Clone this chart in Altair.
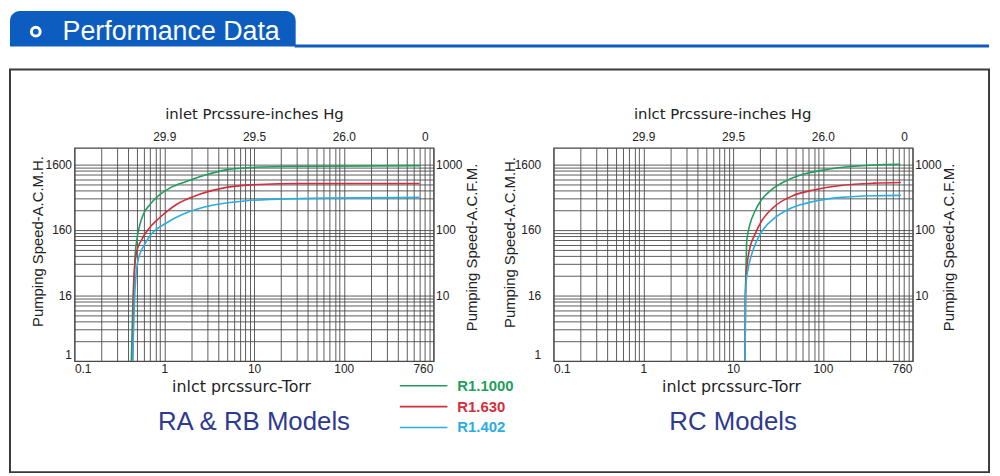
import altair as alt
import pandas as pd

FONT = "Liberation Sans"

# ---- series ----
series_names = ["R1.1000", "R1.630", "R1.402"]
series_colors = ["#1f9e5e", "#d22f3c", "#2aaee0"]
model_color = "#2e3a8f"
header_blue = "#0c5dbf"

# RA & RB models (x: inlet pressure Torr, y: pumping speed on the CFM scale)
ra_green_torr = [0.43, 0.445, 0.457, 0.464, 0.472, 0.493, 0.536, 0.583, 0.691, 0.891, 1.15, 1.76, 2.93, 4.86, 8.81, 20.4, 700]
ra_green_cfm = [1, 6, 16.9, 21.3, 37.9, 67.9, 121.6, 172, 244, 346, 436, 550, 695, 828, 897, 930, 962]
ra_red_torr = [0.445, 0.455, 0.462, 0.475, 0.5, 0.55, 0.62, 0.72, 0.892, 1.1, 1.37, 2.47, 4.91, 11.4, 31.4, 700]
ra_red_cfm = [1, 8.4, 20, 33, 50, 68, 90, 117, 155, 198, 245, 350, 447, 496, 513, 513]
ra_blue_torr = [0.445, 0.466, 0.484, 0.509, 0.536, 0.609, 0.691, 1.07, 1.77, 3.43, 8.16, 24.4, 700]
ra_blue_cfm = [1, 8.4, 20.1, 33.9, 43.3, 61.2, 80.9, 129, 183, 238, 279, 299, 315]

# RC models
rc_green_torr = [13.6, 13.7, 13.9, 14.2, 15.4, 17.5, 20.7, 26.8, 37.6, 57.4, 104, 205, 371, 731]
rc_green_cfm = [1, 8.4, 23.9, 67.9, 121.6, 193, 290, 412, 550, 695, 828, 930, 985, 1007]
rc_red_torr = [13.6, 13.7, 13.9, 14.5, 15.4, 17.5, 20.7, 29.1, 44.5, 80.6, 159, 371, 740]
rc_red_cfm = [1, 8.4, 16.9, 33.8, 53.8, 85.8, 136, 230, 326, 412, 479, 519, 531]
rc_blue_torr = [13.6, 13.7, 13.9, 14.8, 16.1, 18.3, 21.6, 29.1, 44.5, 80.6, 159, 371, 740]
rc_blue_cfm = [1, 5.9, 15, 26.8, 42.7, 67.9, 102, 153, 217, 274, 315, 334, 338]

# ---- axis ticks / labels ----
bottom_ticks = [0.1, 1, 10, 100, 760]
top_label_values = [1, 10, 100, 800]
top_labels = ["29.9", "29.5", "26.0", "0"]
left_label_values = [1, 10, 100, 1000]
left_labels = ["1", "16", "160", "1600"]
right_ticks = [10, 100, 1000]
x_grid = [round(m * 10 ** e, 6) for e in range(-1, 3) for m in range(1, 10)] + [1000]
y_grid = [round(m * 10 ** e, 6) for e in range(0, 3) for m in range(1, 10)] + [1000]

header_text = ["Performance Data"]
model_titles = ["RA & RB Models", "RC Models"]
top_titles = ["inlet  Prcssure-inches Hg", "inlct  Prcssure-inches Hg"]
bottom_title = "inlct prcssurc-Torr"
left_title = "Pumping Speed-A.C.M.H."
right_title = "Pumping Speed-A.C.F.M."


def map_expr(vals, labels):
    return " : ".join(f"datum.value == {v} ? '{l}'" for v, l in zip(vals, labels)) + " : ''"


def long_df(torr_lists, cfm_lists):
    rows = []
    for name, ts, cs in zip(series_names, torr_lists, cfm_lists):
        for i, (t, c) in enumerate(zip(ts, cs)):
            rows.append({"series": name, "torr": t, "cfm": c, "idx": i})
    return pd.DataFrame(rows)


W, H = 362, 215

label_color_expr = " : ".join(
    f"datum.label == '{n}' ? '{c}'" for n, c in zip(series_names[:-1], series_colors[:-1])
) + f" : '{series_colors[-1]}'"


def panel(df, top_title, model_title, lpad, tl, tr, tt, tb, legend, extra):
    xs = alt.Scale(type="log", domain=[0.1, 1000])
    ys = alt.Scale(type="log", domain=[1, 1800])
    color = alt.Color("series:N", scale=alt.Scale(domain=series_names, range=series_colors), legend=legend)

    lines = alt.Chart(df).mark_line(strokeWidth=1.6, interpolate="monotone").encode(
        x=alt.X("torr:Q", scale=xs, axis=alt.Axis(
            orient="bottom", values=bottom_ticks, labelExpr="datum.value + ''", labelPadding=3,
            grid=False, labelFlush=True, title=bottom_title, titleFont="DejaVu Sans", titleFontSize=16,
            titleX=tb[0], titleY=tb[1], titleAlign="center", titleBaseline="middle")),
        y=alt.Y("cfm:Q", scale=ys, axis=alt.Axis(
            orient="left", values=y_grid, grid=True, labelExpr=map_expr(left_label_values, left_labels),
            labelPadding=lpad, labelFlush=True, title=left_title, titleX=tl[0], titleY=tl[1],
            titleAngle=270, titleAlign="center", titleBaseline="middle")),
        color=color,
        order=alt.Order("idx:Q"),
    )
    helper = alt.Chart(df).mark_point(opacity=0).encode(
        x=alt.X("torr:Q", scale=xs, axis=alt.Axis(
            orient="top", values=x_grid, grid=True, labelExpr=map_expr(top_label_values, top_labels),
            labelPadding=4, labelFlush=False, title=top_title, titleFont="DejaVu Sans", titleFontSize=15,
            titleX=tt[0], titleY=tt[1], titleAlign="center", titleBaseline="middle")),
        y=alt.Y("cfm:Q", scale=ys, axis=alt.Axis(
            orient="right", values=right_ticks, labelExpr="datum.value + ''", labelPadding=2, grid=False,
            title=right_title, titleX=tr[0], titleY=tr[1], titleAngle=270, titleAlign="center",
            titleBaseline="middle")),
    )
    label = alt.Chart(pd.DataFrame({"t": [model_title]})).mark_text(
        font=FONT, fontSize=26, color=model_color, align="center", baseline="middle"
    ).encode(text="t:N", x=alt.value(W / 2), y=alt.value(277))
    return alt.layer(*extra, lines, helper, label).resolve_axis(x="independent", y="independent").properties(
        width=W, height=H)


one = pd.DataFrame({"k": [0]})
box = alt.Chart(one).mark_rect(fill="transparent", stroke="#3a3a3a", strokeWidth=2).encode(
    x=alt.value(-65), x2=alt.value(922), y=alt.value(-79), y2=alt.value(327))
tab = alt.Chart(one).mark_rect(color=header_blue, cornerRadiusTopLeft=10, cornerRadiusTopRight=10).encode(
    x=alt.value(-65), x2=alt.value(223), y=alt.value(-138), y2=alt.value(-102))
bar = alt.Chart(one).mark_rule(color=header_blue, strokeWidth=3).encode(
    x=alt.value(222), x2=alt.value(922), y=alt.value(-102.5))
ring = alt.Chart(one).mark_point(shape="circle", filled=False, stroke="white", strokeWidth=3, size=78,
                                 opacity=1).encode(x=alt.value(-39), y=alt.value(-117))
htext = alt.Chart(pd.DataFrame({"t": header_text})).mark_text(
    font=FONT, fontSize=27, color="white", align="left", baseline="alphabetic"
).encode(text="t:N", x=alt.value(-12), y=alt.value(-109))

# a legend line twice as long as the nominal symbol size keeps the rows compact
legend = alt.Legend(
    orient="none", legendX=339, legendY=227, direction="vertical", title=None,
    symbolType="M-2,0H2", symbolSize=576, symbolStrokeWidth=1.6,
    labelFont=FONT, labelFontSize=15, labelFontWeight="bold", labelOffset=21,
    labelColor={"expr": label_color_expr}, rowPadding=0, padding=0,
)

left = panel(long_df([ra_green_torr, ra_red_torr, ra_blue_torr], [ra_green_cfm, ra_red_cfm, ra_blue_cfm]),
             top_titles[0], model_titles[0], 3, (-37, 94), (38, 100), (181, -34), (168, 26), legend,
             [box, tab, bar, ring, htext])
right = panel(long_df([rc_green_torr, rc_red_torr, rc_blue_torr], [rc_green_cfm, rc_red_cfm, rc_blue_cfm]),
              top_titles[1], model_titles[1], 13, (-44, 95), (36, 100), (170, -34), (179, 26), None, [])

chart = alt.hconcat(left, right, spacing=121, bounds="flush").resolve_scale(color="independent").properties(
    padding=0, background="white"
).configure_view(stroke="#444", strokeWidth=1.2).configure_axis(
    labelFont=FONT, labelFontSize=12, labelColor="#222", titleFont=FONT, titleFontSize=15,
    titleFontWeight="normal", titleColor="#222", gridColor="#4a4a4a", gridWidth=0.9, gridOpacity=1,
    domain=False, ticks=False, labelOverlap=False,
)

chart.save("out.html", embed_options={"renderer": "svg", "actions": False})
